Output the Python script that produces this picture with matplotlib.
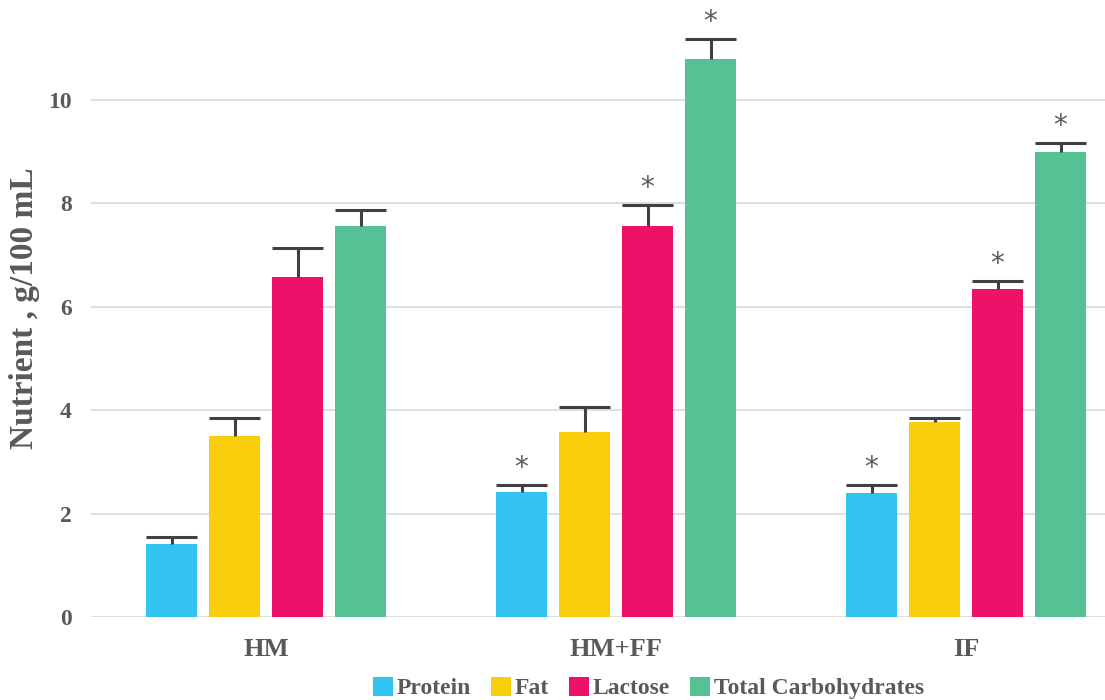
import matplotlib.pyplot as plt
import numpy as np

groups = ["HM", "HM+FF", "IF"]
nutrients = ["Protein", "Fat", "Lactose", "Total Carbohydrates"]
means = {
    "Protein": [1.41, 2.42, 2.40],
    "Fat": [3.50, 3.58, 3.77],
    "Lactose": [6.58, 7.56, 6.34],
    "Total Carbohydrates": [7.56, 10.79, 8.99],
}
errs = {
    "Protein": [0.14, 0.13, 0.15],
    "Fat": [0.35, 0.48, 0.08],
    "Lactose": [0.56, 0.41, 0.16],
    "Total Carbohydrates": [0.31, 0.39, 0.18],
}
# significance marks (True = asterisk above bar)
stars = {
    "Protein": [False, True, True],
    "Fat": [False, False, False],
    "Lactose": [False, True, True],
    "Total Carbohydrates": [False, True, True],
}
colors = ["#33C3F0", "#F9CE0C", "#EE1169", "#55C195"]

serif = "Liberation Serif"
grey = "#595959"

fig = plt.figure(figsize=(11.05, 7), dpi=100)
ax = fig.add_axes([0.0824, 0.1186, 0.9176, 0.8814])

x = np.arange(len(groups))
width = 0.146
step = 0.18
for i, (name, c) in enumerate(zip(nutrients, colors)):
    pos = x + (i - 1.5) * step
    m = np.array(means[name])
    e = np.array(errs[name])
    ax.bar(pos, m, width=width, color=c, label=name, zorder=2)
    # upper-only error bars
    ax.vlines(pos, m, m + e, color="#404040", linewidth=2.2, zorder=3)
    ax.hlines(m + e, pos - width / 2, pos + width / 2, color="#404040", linewidth=2.2, zorder=3)
    for p, mm, ee, s in zip(pos, m, e, stars[name]):
        if s:
            ax.text(p, mm + ee + 0.06, "*", ha="center", va="bottom",
                    fontsize=20, color=grey, family="DejaVu Sans")

ax.set_xlim(-0.5, 2.397)
ax.set_ylim(0, 11.93)
ax.set_yticks([0, 2, 4, 6, 8, 10])
ax.set_xticks(x)
ax.set_xticklabels(groups)
ax.grid(axis="y", color="#d9d9d9", linewidth=1.2, zorder=0)
ax.set_axisbelow(True)
for s in ax.spines.values():
    s.set_visible(False)
ax.tick_params(length=0)
ax.tick_params(axis="y", pad=14)
ax.tick_params(axis="x", pad=15)
for lab in ax.get_yticklabels():
    lab.set_fontfamily(serif)
    lab.set_fontweight("bold")
    lab.set_fontsize(17)
    lab.set_color(grey)
for lab in ax.get_xticklabels():
    lab.set_fontfamily(serif)
    lab.set_fontweight("bold")
    lab.set_fontsize(19)
    lab.set_color(grey)

ax.set_ylabel("Nutrient , g/100 mL", fontfamily=serif, fontweight="bold",
              fontsize=24, color=grey, labelpad=6)

leg = fig.legend(loc="center", bbox_to_anchor=(0.587, 0.017), ncol=4, frameon=False,
                 prop={"family": serif, "weight": "bold", "size": 17},
                 handlelength=0.85, handleheight=0.85, handletextpad=0.15, columnspacing=0.85)
for t in leg.get_texts():
    t.set_color(grey)

fig.savefig("out.png", dpi=100)
